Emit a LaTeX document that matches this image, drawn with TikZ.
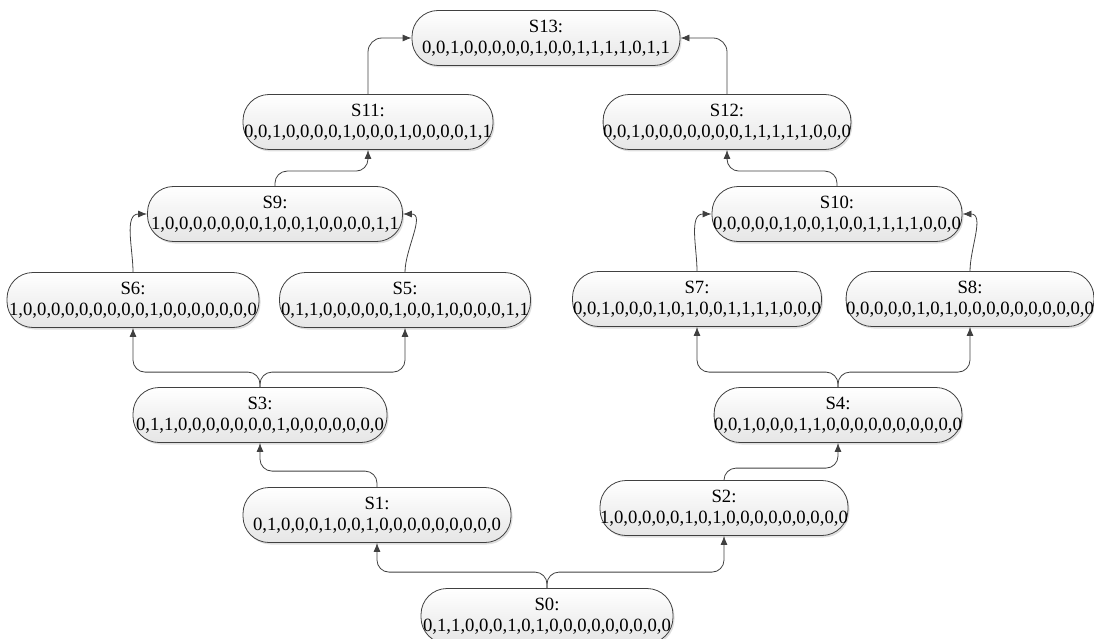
\documentclass[tikz,border=0pt]{standalone}
\usepackage{fontspec}
\setmainfont{Liberation Serif}
\usetikzlibrary{arrows.meta,shadows}

\newcommand{\statefont}{\fontsize{18.7}{21}\selectfont}

\begin{document}
\begin{tikzpicture}[x=1pt, y=-1pt,
	state/.style={draw=black!75, line width=0.8pt, rounded corners=26pt, top color=white, bottom color=black!10,
		drop shadow={shadow xshift=1.5pt, shadow yshift=-2pt, opacity=0.25},
		minimum width=250pt, minimum height=55pt, inner xsep=0pt, inner ysep=2pt, align=center, font=\statefont},
	link/.style={draw=black!75, line width=0.8pt, -{Latex[length=9pt,width=7pt]}}]

	\useasboundingbox (0,0) rectangle (1094,639);

	\node[state, minimum width=268pt] (s13) at (546,38) {S13:\\0,0,1,0,0,0,0,0,1,0,0,1,1,1,1,0,1,1};
	\node[state] (s11) at (368,122) {S11:\\0,0,1,0,0,0,0,1,0,0,0,1,0,0,0,0,1,1};
	\node[state, minimum width=245pt] (s12) at (727,122) {S12:\\0,0,1,0,0,0,0,0,0,0,1,1,1,1,1,0,0,0};
	\node[state, minimum width=255pt] (s9) at (275,214) {S9:\\1,0,0,0,0,0,0,0,1,0,0,1,0,0,0,0,1,1};
	\node[state] (s10) at (837,214) {S10:\\0,0,0,0,0,1,0,0,1,0,0,1,1,1,1,0,0,0};
	\node[state, minimum width=252pt] (s6) at (133,300) {S6:\\1,0,0,0,0,0,0,0,0,0,1,0,0,0,0,0,0,0};
	\node[state, minimum width=251pt] (s5) at (405,300) {S5:\\0,1,1,0,0,0,0,0,1,0,0,1,0,0,0,0,1,1};
	\node[state, minimum width=249pt] (s7) at (697,299) {S7:\\0,0,1,0,0,0,1,0,1,0,0,1,1,1,1,0,0,0};
	\node[state, minimum width=245pt] (s8) at (970,299) {S8:\\0,0,0,0,0,1,0,1,0,0,0,0,0,0,0,0,0,0};
	\node[state, minimum width=254pt] (s3) at (260,415) {S3:\\0,1,1,0,0,0,0,0,0,0,1,0,0,0,0,0,0,0};
	\node[state, minimum width=247pt] (s4) at (838,415) {S4:\\0,0,1,0,0,0,1,1,0,0,0,0,0,0,0,0,0,0};
	\node[state, minimum width=268pt] (s1) at (377,515) {S1:\\0,1,0,0,0,1,0,0,1,0,0,0,0,0,0,0,0,0};
	\node[state, minimum width=248pt] (s2) at (724,508) {S2:\\1,0,0,0,0,0,1,0,1,0,0,0,0,0,0,0,0,0};
	\node[state, minimum width=252pt] (s0) at (547,616) {S0:\\0,1,1,0,0,0,1,0,1,0,0,0,0,0,0,0,0,0};

	\draw[link, rounded corners=12pt] (s0.north) -- ++(0,-16) -| (s1.south);
	\draw[link, rounded corners=12pt] (s0.north) -- ++(0,-16) -| (s2.south);
	\draw[link, rounded corners=12pt] (s1.north) -- ++(0,-16) -| (s3.south);
	\draw[link, rounded corners=12pt] (s2.north) -- ++(0,-12) -| (s4.south);
	\draw[link, rounded corners=12pt] (s3.north) -- ++(0,-15) -| (s6.south);
	\draw[link, rounded corners=12pt] (s3.north) -- ++(0,-15) -| (s5.south);
	\draw[link, rounded corners=12pt] (s4.north) -- ++(0,-15) -| (s7.south);
	\draw[link, rounded corners=12pt] (s4.north) -- ++(0,-15) -| (s8.south);
	\draw[link] (s6.north) to[out=90, in=180] (s9.west);
	\draw[link] (s5.north) to[out=90, in=0] (s9.east);
	\draw[link] (s7.north) to[out=90, in=180] (s10.west);
	\draw[link] (s8.north) to[out=90, in=0] (s10.east);
	\draw[link, rounded corners=12pt] (s9.north) -- ++(0,-15) -| (s11.south);
	\draw[link, rounded corners=12pt] (s10.north) -- ++(0,-15) -| (s12.south);
	\draw[link, rounded corners=14pt] (s11.north) |- (s13.west);
	\draw[link, rounded corners=14pt] (s12.north) |- (s13.east);

\end{tikzpicture}
\end{document}
